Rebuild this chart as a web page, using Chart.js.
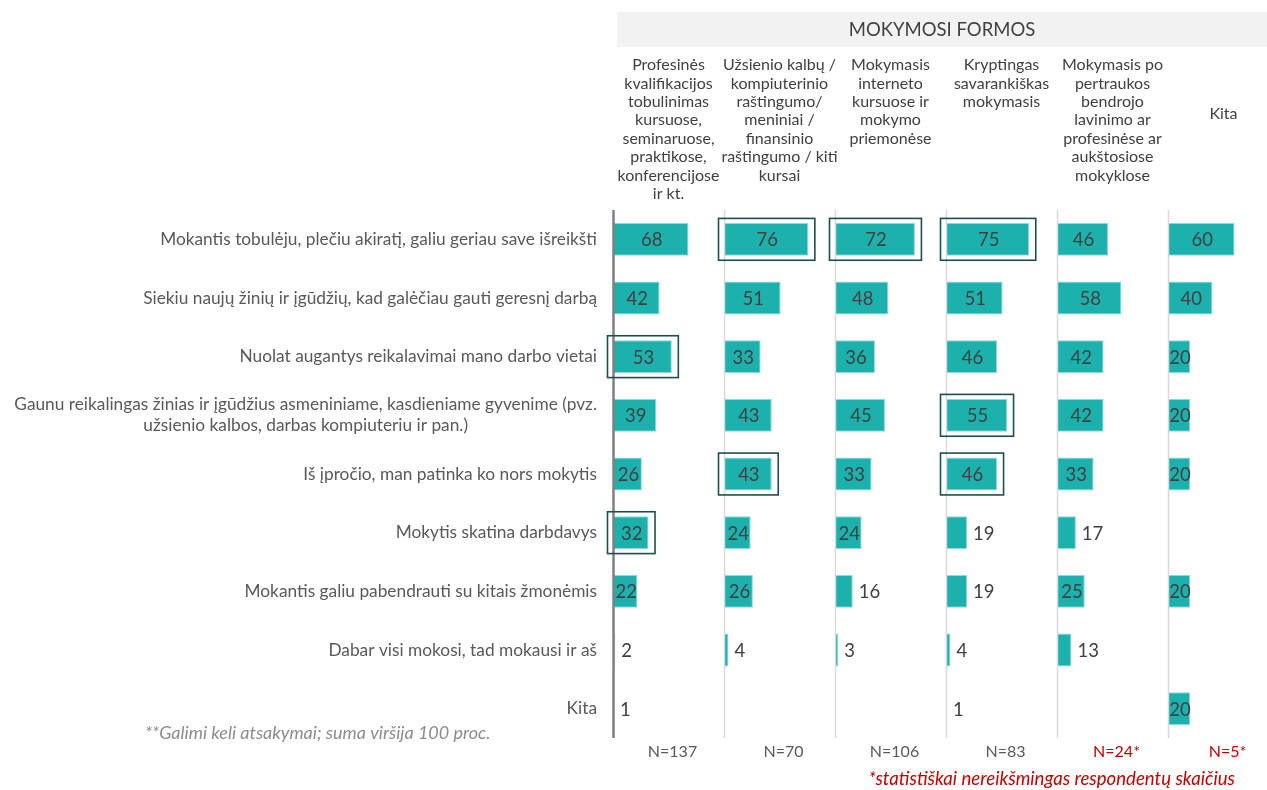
<!DOCTYPE html>
<html lang="lt">
<head>
<meta charset="utf-8">
<title>Mokymosi formos</title>
<script src="https://cdn.jsdelivr.net/npm/chart.js@4/dist/chart.umd.min.js"></script>
<style>
  html, body { margin: 0; padding: 0; background: #fff; }
  #wrap { width: 1267px; height: 790px; }
</style>
</head>
<body>
<div id="wrap"><canvas id="chart" width="1267" height="790"></canvas></div>
<script>
/* ================================================
   Mokymosi formos – motyvai pagal mokymosi formą
================================================ */

const FONT = 'Lato, "Open Sans", sans-serif';

const categories = [
  'Mokantis tobulėju, plečiu akiratį, galiu geriau save išreikšti',
  'Siekiu naujų žinių ir įgūdžių, kad galėčiau gauti geresnį darbą',
  'Nuolat augantys reikalavimai mano darbo vietai',
  ['Gaunu reikalingas žinias ir įgūdžius asmeniniame, kasdieniame gyvenime (pvz.', 'užsienio kalbos, darbas kompiuteriu ir pan.)'],
  'Iš įpročio, man patinka ko nors mokytis',
  'Mokytis skatina darbdavys',
  'Mokantis galiu pabendrauti su kitais žmonėmis',
  'Dabar visi mokosi, tad mokausi ir aš',
  'Kita'
];

const formHeaders = [
  ['Profesinės', 'kvalifikacijos', 'tobulinimas', 'kursuose,', 'seminaruose,', 'praktikose,', 'konferencijose', 'ir kt.'],
  ['Užsienio kalbų /', 'kompiuterinio', 'raštingumo/', 'meniniai /', 'finansinio', 'raštingumo / kiti', 'kursai'],
  ['Mokymasis', 'interneto', 'kursuose ir', 'mokymo', 'priemonėse'],
  ['Kryptingas', 'savarankiškas', 'mokymasis'],
  ['Mokymasis po', 'pertraukos', 'bendrojo', 'lavinimo ar', 'profesinėse ar', 'aukštosiose', 'mokyklose'],
  ['Kita']
];

const profesinesValues    = [68, 42, 53, 39, 26, 32, 22, 2, 1];
const kalbuValues         = [76, 51, 33, 43, 43, 24, 26, 4, null];
const internetoValues     = [72, 48, 36, 45, 33, 24, 16, 3, null];
const savarankiskasValues = [75, 51, 46, 55, 46, 19, 19, 4, 1];
const pertraukosValues    = [46, 58, 42, 42, 33, 17, 25, 13, null];
const kitaValues          = [60, 40, 20, 20, 20, null, 20, null, 20];

const seriesValues = [profesinesValues, kalbuValues, internetoValues, savarankiskasValues, pertraukosValues, kitaValues];

// rows framed in the original (highest answers per form)
const highlighted = [[2, 5], [0, 4], [0], [0, 3, 4], [], []];

const sampleSizes = ['N=137', 'N=70', 'N=106', 'N=83', 'N=24*', 'N=5*'];
const sampleSignificant = [true, true, true, true, false, false];

const BAR_COLOR = '#1db1ad';

function panelScales() {
  const scales = {
    y: {
      type: 'category',
      labels: categories,
      display: false,
      offset: true
    }
  };
  seriesValues.forEach((_, i) => {
    const isLast = i === seriesValues.length - 1;
    scales['x' + i] = {
      type: 'linear',
      position: 'bottom',
      stack: 'forms',
      stackWeight: isLast ? 99 : 111,
      min: 0,
      max: isLast ? 89.2 : 100,
      display: false
    };
  });
  return scales;
}

const panelDecor = {
  id: 'panelDecor',
  beforeDatasetsDraw(chart) {
    const { ctx, chartArea } = chart;
    const x0 = chart.scales.x0;
    ctx.save();

    // header band
    ctx.fillStyle = '#f2f2f2';
    ctx.fillRect(x0.left + 4, 12, chartArea.right - x0.left - 4, 35);
    ctx.fillStyle = '#404040';
    ctx.font = '18.5px ' + FONT;
    ctx.textAlign = 'center';
    ctx.textBaseline = 'middle';
    ctx.fillText('MOKYMOSI FORMOS', (x0.left + chartArea.right) / 2 + 2, 30);

    // column headers
    ctx.font = '16px ' + FONT;
    formHeaders.forEach((lines, i) => {
      const sc = chart.scales['x' + i];
      const cx = sc.getPixelForValue(50);
      const startY = lines.length === 1 ? 114 : 65;
      lines.forEach((line, j) => ctx.fillText(line, cx, startY + j * 18.4));
    });

    ctx.restore();
  },

  afterDatasetsDraw(chart) {
    const { ctx, chartArea } = chart;
    const yScale = chart.scales.y;
    ctx.save();

    // vertical axis line at 0 of each panel
    seriesValues.forEach((_, i) => {
      const sc = chart.scales['x' + i];
      const px = Math.round(sc.getPixelForValue(0)) + 0.5;
      ctx.beginPath();
      ctx.strokeStyle = i === 0 ? '#808080' : '#d9d9d9';
      ctx.lineWidth = i === 0 ? 2.5 : 1.5;
      ctx.moveTo(px, chartArea.top);
      ctx.lineTo(px, chartArea.bottom);
      ctx.stroke();
    });

    // highlight boxes
    ctx.strokeStyle = '#1e4d4e';
    ctx.lineWidth = 1.6;
    highlighted.forEach((rows, i) => {
      const meta = chart.getDatasetMeta(i);
      rows.forEach(r => {
        const bar = meta.data[r];
        if (!bar) return;
        const { x, y, base, height } = bar.getProps(['x', 'y', 'base', 'height'], true);
        ctx.strokeRect(base - 5.5, y - height / 2 - 4.5, x - base + 12, height + 9);
      });
    });

    // value labels
    ctx.font = '18.5px ' + FONT;
    ctx.fillStyle = '#404040';
    ctx.textBaseline = 'middle';
    seriesValues.forEach((values, i) => {
      const meta = chart.getDatasetMeta(i);
      values.forEach((v, r) => {
        if (v === null) return;
        const bar = meta.data[r];
        const { x, y, base } = bar.getProps(['x', 'y', 'base'], true);
        if (v >= 20) {
          ctx.textAlign = 'center';
          ctx.fillText(String(v), (x + base) / 2 + 1, y + 1);
        } else {
          ctx.textAlign = 'left';
          ctx.fillText(String(v), x + 6, y + 1);
        }
      });
    });

    // category labels (multi-line centred within a right-aligned block)
    ctx.font = '17.3px ' + FONT;
    ctx.fillStyle = '#595959';
    ctx.textAlign = 'center';
    const right = chartArea.left - 16;
    categories.forEach((label, r) => {
      const lines = Array.isArray(label) ? label : [label];
      const w = Math.max(...lines.map(l => ctx.measureText(l).width));
      const y = yScale.getPixelForValue(r);
      const lh = 21;
      lines.forEach((l, j) => {
        ctx.fillText(l, right - w / 2, y + (j - (lines.length - 1) / 2) * lh);
      });
    });

    // sample sizes
    ctx.font = '16px ' + FONT;
    sampleSizes.forEach((n, i) => {
      const sc = chart.scales['x' + i];
      ctx.fillStyle = sampleSignificant[i] ? '#595959' : '#c00000';
      ctx.fillText(n, sc.getPixelForValue(50) + 4, 752);
    });

    // footnotes
    ctx.font = 'italic 18px ' + FONT;
    ctx.fillStyle = '#8c8c8c';
    ctx.textAlign = 'left';
    ctx.fillText('**Galimi keli atsakymai; suma viršija 100 proc.', 145, 733);
    ctx.font = 'italic 18.6px ' + FONT;
    ctx.fillStyle = '#c00000';
    ctx.textAlign = 'right';
    ctx.fillText('*statistiškai nereikšmingas respondentų skaičius', 1235, 779);

    ctx.restore();
  }
};

const ctx = document.getElementById('chart').getContext('2d');
new Chart(ctx, {
  type: 'bar',
  data: {
    labels: categories,
    datasets: seriesValues.map((values, i) => ({
      label: formHeaders[i].join(' '),
      data: values,
      xAxisID: 'x' + i,
      yAxisID: 'y',
      backgroundColor: BAR_COLOR,
      borderColor: '#8fd8d5',
      borderWidth: 1,
      grouped: false,
      categoryPercentage: 1,
      barPercentage: 0.56
    }))
  },
  options: {
    indexAxis: 'y',
    responsive: false,
    animation: false,
    layout: { padding: { left: 613, right: 0, top: 210, bottom: 52 } },
    plugins: {
      legend: { display: false },
      tooltip: { enabled: false }
    },
    scales: panelScales()
  },
  plugins: [panelDecor]
});
</script>
</body>
</html>
